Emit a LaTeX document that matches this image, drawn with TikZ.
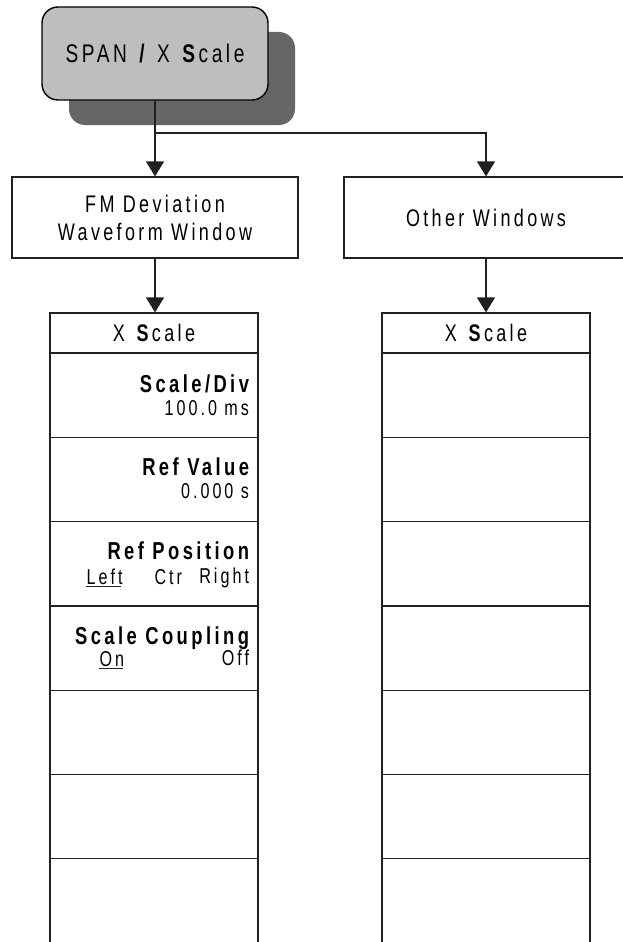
\documentclass[tikz,border=0pt]{standalone}
\usepackage{fontspec}
\setmainfont{Liberation Sans}
\newfontfamily\reg[LetterSpace=14,FakeStretch=0.75]{Liberation Sans}
\usetikzlibrary{arrows.meta,shadows,calc}
\definecolor{keyfill}{HTML}{BEBEBE}
\definecolor{keyshadow}{HTML}{666666}
\definecolor{linegray}{HTML}{202020}
\begin{document}
\begin{tikzpicture}[x=1pt,y=-1pt,line width=1.2pt,
  conn/.style={draw=linegray,-{Triangle[width=18pt,length=15pt]}},
  hkey/.style={draw=black,line width=1.4pt,fill=keyfill,rounded corners=16pt,
    minimum width=226pt,minimum height=93pt,inner sep=0pt,
    font={\reg\fontsize{25.5}{29}\selectfont},
    drop shadow={shadow xshift=27pt,shadow yshift=-25pt,fill=keyshadow,opacity=1}},
  wbox/.style={draw=linegray,rectangle,inner sep=0pt,minimum height=81pt,
    align=center,font={\reg\fontsize{24}{28}\selectfont}},
  mhead/.style={draw=linegray,rectangle,minimum width=208pt,minimum height=40pt,
    inner sep=0pt,font={\reg\fontsize{24}{28}\selectfont}},
  mrow/.style={draw=linegray,rectangle,minimum width=208pt,minimum height=84.14pt,
    inner sep=0pt,anchor=north},
  lbl/.style={inner sep=0pt,anchor=base east,font={\reg\bfseries\fontsize{24.5}{28}\selectfont}},
  val/.style={inner sep=0pt,font={\reg\fontsize{21.5}{25}\selectfont}},
  uline/.style={draw=linegray,line width=1pt}]
\useasboundingbox (0,0) rectangle (622,942);

% main key
\node[hkey] (key) at (155,53.5) {SPAN \textbf{/} X \textbf{S}cale};

% window boxes
\node[wbox,minimum width=286pt] (fm) at (155,217.5) {FM Deviation\\Waveform Window};
\node[wbox,minimum width=284pt] (ow) at (486,217.5) {Other Windows};

% menus
\node[mhead] (LH) at (154,333) {X \textbf{S}cale};
\node[mhead] (RH) at (486,333) {X \textbf{S}cale};
\foreach \i [evaluate=\i as \yy using 353+(\i-1)*84.14] in {1,...,6}{
  \node[mrow] (L\i) at (154,\yy) {};
  \node[mrow] (R\i) at (486,\yy) {};
}
\node[mrow,minimum height=110pt] (L7) at (154,857.84) {};
\node[mrow,minimum height=110pt] (R7) at (486,857.84) {};

% connectors
\coordinate (br) at (155,133);
\draw[conn] (key.south) -- (fm.north);
\draw[conn] (br) -| (ow.north);
\draw[conn] (fm.south) -- (fm.south |- LH.north);
\draw[conn] (ow.south) -- (ow.south |- RH.north);

% softkey labels
\node[lbl] (sdl) at ($(L1.north east)+(-9,39)$) {Scale/Div};
\node[val,anchor=base east] (sdv) at ($(L1.north east)+(-9,62)$) {100.0 ms};
\node[lbl] (rvl) at ($(L2.north east)+(-9,38)$) {Ref Value};
\node[val,anchor=base east] (rvv) at ($(L2.north east)+(-9,61)$) {0.000 s};
\node[lbl] (rpl) at ($(L3.north east)+(-9,38)$) {Ref Position};
\node[val,anchor=base west] (rpa) at (86,584) {Left};
\node[val,anchor=base west] (rpb) at (154,584) {Ctr};
\node[val,anchor=base east] (rpc) at ($(L3.north east)+(-9,62)$) {Right};
\node[lbl] (scl) at ($(L4.north east)+(-9,39)$) {Scale Coupling};
\node[val,anchor=base west] (sca) at (99,666) {On};
\node[val,anchor=base east] (scb) at ($(L4.north east)+(-9,60)$) {Off};

\draw[uline] ([yshift=-2.5pt]rpa.base west) -- ([yshift=-2.5pt,xshift=-2pt]rpa.base east);
\draw[uline] ([yshift=-2.5pt]sca.base west) -- ([yshift=-2.5pt,xshift=-2pt]sca.base east);
\end{tikzpicture}
\end{document}
